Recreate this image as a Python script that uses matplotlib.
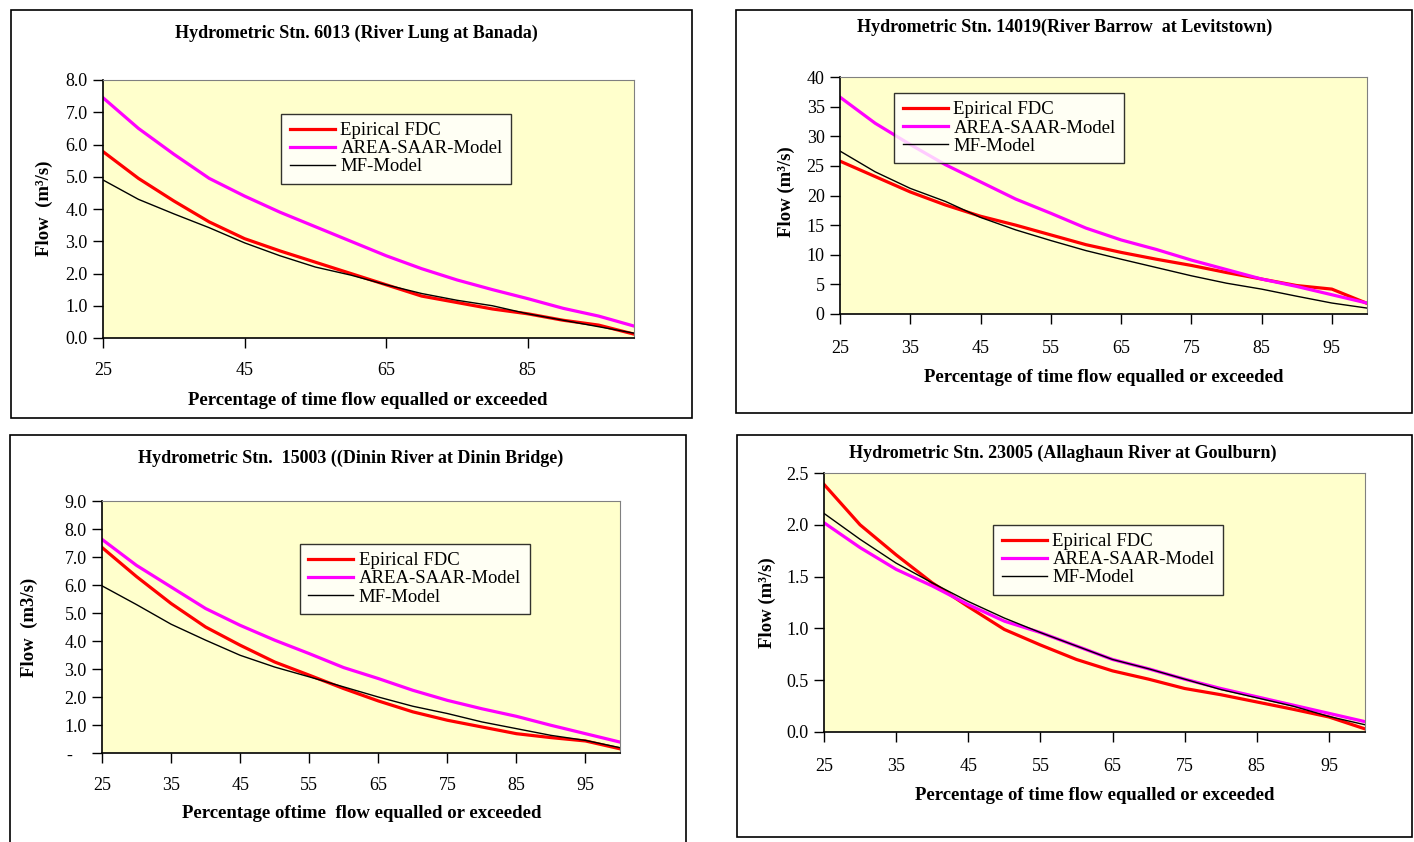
import numpy as np
import matplotlib
matplotlib.use('Agg')
import matplotlib.pyplot as plt
from matplotlib.patches import Rectangle

W, H = 1414, 842
plt.rcParams['font.family'] = ['Liberation Serif', 'DejaVu Serif']

pct = [25, 30, 35, 40, 45, 50, 55, 60, 65, 70, 75, 80, 85, 90, 95, 100]
names = ["Epirical FDC", "AREA-SAAR-Model", "MF-Model"]

# Stn. 6013 River Lung at Banada
lung_fdc = [5.78, 4.95, 4.25, 3.6, 3.08, 2.7, 2.35, 2.0, 1.65, 1.3, 1.1, 0.9, 0.75, 0.55, 0.4, 0.12]
lung_saar = [7.45, 6.5, 5.7, 4.95, 4.4, 3.9, 3.45, 3.0, 2.55, 2.15, 1.8, 1.5, 1.22, 0.92, 0.68, 0.37]
lung_mf = [4.9, 4.3, 3.85, 3.42, 2.95, 2.55, 2.2, 1.95, 1.65, 1.38, 1.17, 1.0, 0.75, 0.55, 0.35, 0.15]

# Stn. 14019 River Barrow at Levitstown
barrow_fdc = [25.8, 23.2, 20.6, 18.4, 16.5, 15.0, 13.35, 11.7, 10.4, 9.25, 8.2, 7.0, 5.9, 4.8, 4.2, 1.8]
barrow_saar = [36.6, 32.2, 28.6, 25.2, 22.3, 19.4, 17.0, 14.5, 12.5, 10.9, 9.1, 7.5, 5.9, 4.65, 3.25, 1.85]
barrow_mf = [27.5, 24.0, 21.2, 19.0, 16.3, 14.2, 12.4, 10.7, 9.25, 7.85, 6.45, 5.2, 4.2, 3.0, 1.85, 1.0]

# Stn. 15003 Dinin River at Dinin Bridge
dinin_fdc = [7.34, 6.3, 5.34, 4.5, 3.85, 3.25, 2.78, 2.3, 1.86, 1.47, 1.17, 0.93, 0.69, 0.55, 0.43, 0.15]
dinin_saar = [7.63, 6.7, 5.93, 5.16, 4.56, 4.03, 3.55, 3.05, 2.66, 2.24, 1.88, 1.58, 1.31, 0.99, 0.69, 0.39]
dinin_mf = [5.97, 5.3, 4.6, 4.03, 3.49, 3.07, 2.72, 2.36, 2.0, 1.67, 1.41, 1.11, 0.87, 0.63, 0.45, 0.19]

# Stn. 23005 Allaghaun River at Goulburn
allag_fdc = [2.39, 2.0, 1.71, 1.44, 1.21, 0.99, 0.84, 0.70, 0.59, 0.51, 0.42, 0.36, 0.29, 0.22, 0.145, 0.03]
allag_saar = [2.02, 1.78, 1.57, 1.41, 1.23, 1.07, 0.96, 0.83, 0.70, 0.61, 0.51, 0.42, 0.34, 0.26, 0.18, 0.10]
allag_mf = [2.11, 1.86, 1.63, 1.44, 1.26, 1.10, 0.96, 0.83, 0.70, 0.61, 0.51, 0.41, 0.33, 0.25, 0.15, 0.07]

colors = ['#ff0000', '#ff00ff', 'black']
widths = [2.3, 2.3, 1.0]


def fx(x):
    return x / W


def fy(y):
    return 1 - y / H


fig = plt.figure(figsize=(W / 100, H / 100), dpi=100)


def panel(box, area, title, tpos, xlab, xpos, ylab, ypos, series, ylim, yticks, ylabels,
          xticks, leg, pad):
    x0, y0, x1, y1 = box
    fig.patches.append(Rectangle((fx(x0), fy(y1)), fx(x1 - x0), (y1 - y0) / H,
                                 transform=fig.transFigure, fill=False, ec='black', lw=1.2))
    a0, b0, a1, b1 = area
    ax = fig.add_axes([fx(a0), fy(b1), fx(a1 - a0), (b1 - b0) / H])
    ax.set_facecolor('#ffffcc')
    for s, c, w, n in zip(series, colors, widths, names):
        ax.plot(pct, s, color=c, lw=w, label=n)
    ax.set_xlim(25, 100)
    ax.set_ylim(*ylim)
    ax.set_xticks(xticks)
    ax.set_yticks(yticks)
    ax.set_yticklabels(ylabels)
    ax.tick_params(direction='out', length=7, width=1, labelsize=13)
    ax.tick_params(axis='x', pad=pad)
    ax.tick_params(axis='y', pad=4)
    for sp in ['top', 'right']:
        ax.spines[sp].set_color('#808080')
    for sp in ['left', 'bottom']:
        ax.spines[sp].set_linewidth(1.2)
    lg = ax.legend(loc='upper left', bbox_to_anchor=leg, fontsize=13.5, frameon=True,
                   fancybox=False, handlelength=2.4, handletextpad=0.3, borderpad=0.45,
                   labelspacing=0.05, borderaxespad=0)
    lg.get_frame().set_edgecolor('black')
    lg.get_frame().set_linewidth(1.0)
    fig.text(fx(tpos[0]), fy(tpos[1]), title, ha='center', va='center',
             fontsize=13, fontweight='bold')
    fig.text(fx(xpos[0]), fy(xpos[1]), xlab, ha='center', va='center',
             fontsize=13.5, fontweight='bold')
    fig.text(fx(ypos[0]), fy(ypos[1]), ylab, ha='center', va='center', rotation=90,
             fontsize=13.5, fontweight='bold')
    return ax


panel((11, 10, 692, 418), (103, 80, 634, 338),
      "Hydrometric Stn. 6013 (River Lung at Banada)", (356, 33),
      "Percentage of time flow equalled or exceeded", (368, 401),
      "Flow  (m³/s)", (44, 208),
      [lung_fdc, lung_saar, lung_mf], (0, 8), np.arange(0, 9, 1),
      [f"{v:.1f}" for v in range(0, 9)], [25, 45, 65, 85], (0.336, 0.87), 10)

panel((736, 10, 1412, 413), (840, 77, 1367, 314),
      "Hydrometric Stn. 14019(River Barrow  at Levitstown)", (1065, 27),
      "Percentage of time flow equalled or exceeded", (1104, 377),
      "Flow (m³/s)", (786, 192),
      [barrow_fdc, barrow_saar, barrow_mf], (0, 40), np.arange(0, 45, 5),
      [str(v) for v in range(0, 45, 5)], np.arange(25, 100, 10), (0.103, 0.933), 12)

panel((10, 435, 686, 845), (102, 501, 620, 753),
      "Hydrometric Stn.  15003 ((Dinin River at Dinin Bridge)", (351, 458),
      "Percentage oftime  flow equalled or exceeded", (362, 814),
      "Flow  (m3/s)", (29, 627),
      [dinin_fdc, dinin_saar, dinin_mf], (0, 9), np.arange(0, 10, 1),
      ["-   "] + [f"{v:.1f}" for v in range(1, 10)], np.arange(25, 100, 10),
      (0.382, 0.83), 10)

panel((737, 435, 1412, 837), (824, 473, 1365, 732),
      "Hydrometric Stn. 23005 (Allaghaun River at Goulburn)", (1063, 453),
      "Percentage of time flow equalled or exceeded", (1095, 796),
      "Flow (m³/s)", (767, 603),
      [allag_fdc, allag_saar, allag_mf], (0, 2.5), np.arange(0, 2.6, 0.5),
      [f"{v:.1f}" for v in np.arange(0, 2.6, 0.5)], np.arange(25, 100, 10),
      (0.313, 0.8), 12)

fig.savefig('out.png', dpi=100)
